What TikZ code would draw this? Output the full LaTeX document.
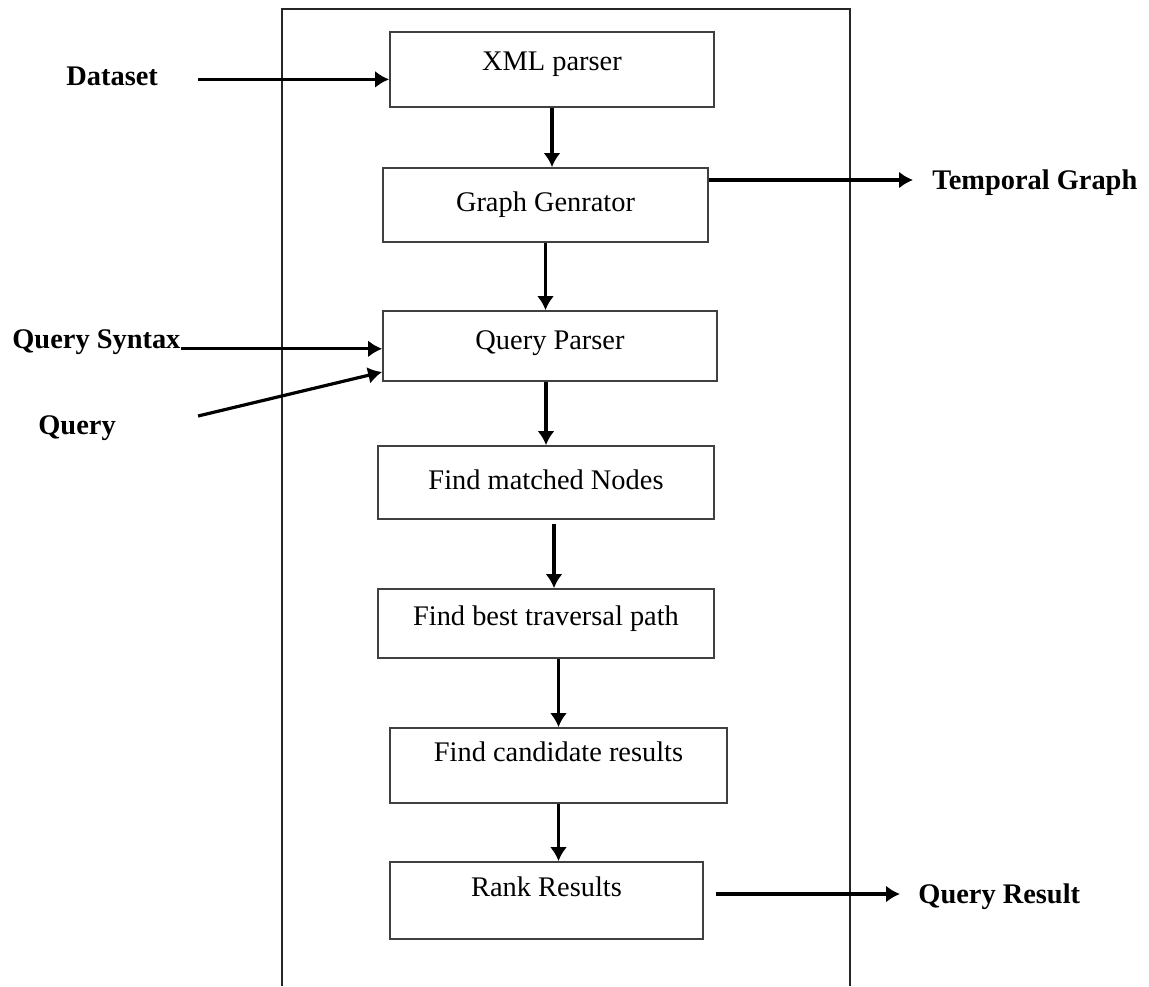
\documentclass[tikz,border=0pt]{standalone}
\usepackage{fontspec}
\setmainfont{Liberation Serif}
\usepackage{tikz}
\usetikzlibrary{positioning, arrows.meta, calc}
\tikzset{
  stage/.style={draw=black!75, line width=0.9pt, inner sep=0pt, align=center,
                text height=10pt, text depth=3pt, font=\fontsize{14.2}{17}\selectfont},
  tag/.style={inner sep=0pt, text height=9.4pt, text depth=0pt,
              font=\fontsize{14.2}{17}\selectfont\bfseries},
  frame/.style={draw=black!85, line width=0.8pt},
  ar/.style={-{Latex[length=7pt, width=8.5pt]}, line width=1.6pt},
}
\begin{document}
\begin{tikzpicture}[x=0.5pt, y=-0.5pt]
  \useasboundingbox (0,0) rectangle (1149,986);
  % outer frame, bottom edge runs off the page
  \draw[frame] (282,986) -- (282,9) -- (850,9) -- (850,986);

  \node[stage, minimum width=162pt, minimum height=37.5pt, text depth=8.6pt] (xml) at (552,69.5) {XML parser};
  \node[stage, minimum width=162.5pt, minimum height=37pt, text depth=3.1pt] (gen) at (545.5,205) {Graph Genrator};
  \node[stage, minimum width=167pt, minimum height=35pt, text depth=6.6pt] (qp) at (550,346) {Query Parser};
  \node[stage, minimum width=168pt, minimum height=36.5pt, text depth=3.1pt] (match) at (546,482.5) {Find matched Nodes};
  \node[stage, minimum width=168pt, minimum height=34.5pt, text depth=8.1pt] (trav) at (546,623.5) {Find best traversal path};
  \node[stage, minimum width=168.5pt, minimum height=37.5pt, text depth=13.6pt] (cand) at (558.5,765.5) {Find candidate results};
  \node[stage, minimum width=156.5pt, minimum height=38.5pt, text depth=13.6pt] (rank) at (546.5,900.5) {Rank Results};

  \node[tag, anchor=west] (data) at (66,76) {Dataset};
  \node[tag, anchor=west] (tg) at (932,180) {Temporal Graph};
  \node[tag, anchor=west] (qs) at (12,339) {Query Syntax};
  \node[tag, anchor=west] (q) at (38,425) {Query};
  \node[tag, anchor=west] (qr) at (918,894) {Query Result};

  \draw[ar, shorten <=20pt] ([yshift=-1.7pt]data.east) -- ([yshift=-1.7pt]data.east -| xml.west);
  \draw[ar] (xml.south) -- (xml.south |- gen.north);
  \draw[ar, shorten >=9.5pt] (gen.east |- tg.west) -- (tg.west);
  \draw[ar] (gen.south) -- (gen.south |- qp.north);
  \draw[ar] (qs.south east) -- (qs.south east -| qp.west);
  \draw[ar] ([xshift=41pt, yshift=4.5pt]q.east) -- ([yshift=-13pt]qp.west);
  \draw[ar] (match.north |- qp.south) -- (match.north);
  \draw[ar] ([xshift=4pt, yshift=-2pt]match.south) -- ([xshift=4pt]trav.north);
  \draw[ar] (cand.north |- trav.south) -- (cand.north);
  \draw[ar] (cand.south) -- (cand.south |- rank.north);
  \draw[ar, shorten <=6pt, shorten >=9pt] (rank.east |- qr.west) -- (qr.west);
\end{tikzpicture}
\end{document}
